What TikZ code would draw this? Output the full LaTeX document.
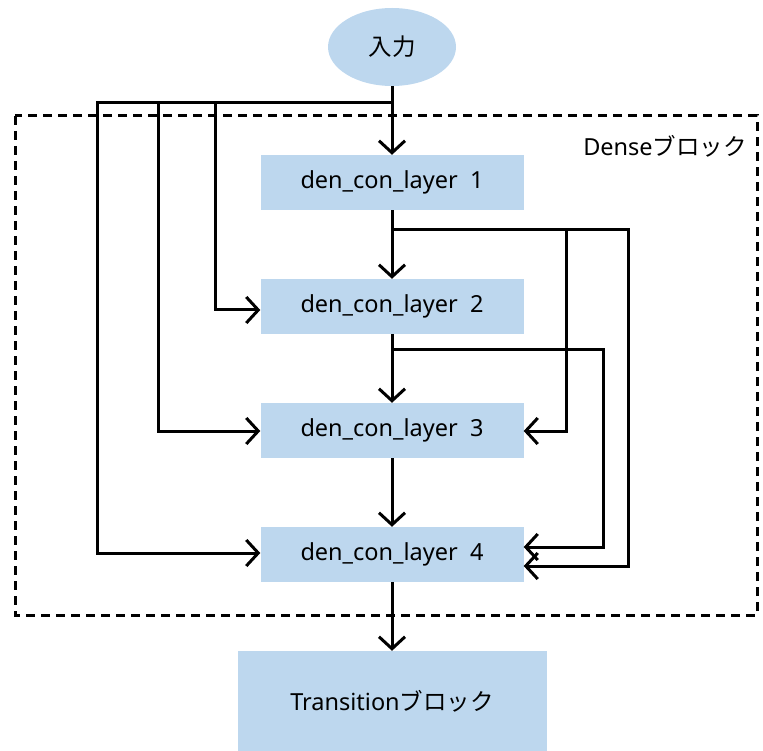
\documentclass[tikz,border=0pt]{standalone}
\usepackage{fontspec}
\setmainfont{Noto Sans}
\newfontfamily\cjk{Noto Sans CJK JP}
\usetikzlibrary{arrows.meta,shapes.geometric}
\definecolor{boxblue}{HTML}{BDD7EE}
\tikzset{
  txt/.style={font=\fontsize{23.5}{27}\selectfont},
  layerbox/.style={fill=boxblue, draw=none, minimum width=263pt, minimum height=55pt, inner sep=0pt, txt},
  conn/.style={line width=3pt, line join=miter, -{Straight Barb[length=12pt,width=26pt,line width=3pt]}},
}
\begin{document}
\begin{tikzpicture}[x=1pt,y=-1pt]
\useasboundingbox (0,0) rectangle (763,751);
% dashed dense block
\draw[line width=3pt, dash pattern=on 9pt off 6pt] (15,116) rectangle (757,615);
\node[txt] (dlabel) at (665,146) {Dense{\cjk ブロック}};
% nodes
\node[ellipse, fill=boxblue, minimum width=128pt, minimum height=78pt, inner sep=0pt, txt] (in) at (392,47) {\cjk 入力};
\node[layerbox] (l1) at (392,182.5) {den\_con\_layer\ \ 1};
\node[layerbox] (l2) at (392,306.5) {den\_con\_layer\ \ 2};
\node[layerbox] (l3) at (392,430.5) {den\_con\_layer\ \ 3};
\node[layerbox] (l4) at (392,554.5) {den\_con\_layer\ \ 4};
\node[fill=boxblue, minimum width=309pt, minimum height=100pt, inner sep=0pt, txt] (tr) at (392,701) {Transition{\cjk ブロック}};
% junction coordinates
\coordinate (j0) at (392,103);
\coordinate (j1) at (392,230);
\coordinate (j2) at (392,349);
% main chain
\draw[conn] (in.south) -- (l1.north);
\draw[conn] (l1.south) -- (l2.north);
\draw[conn] (l2.south) -- (l3.north);
\draw[conn] (l3.south) -- (l4.north);
\draw[conn] (l4.south) -- (tr.north);
% input skips
\draw[conn] (j0) -- (215,103) -- (215,310) -- (l2.west |- 0,310);
\draw[conn] (215,103) -- (158,103) -- (158,431) -- (l3.west |- 0,431);
\draw[conn] (158,103) -- (97,103) -- (97,553) -- (l4.west |- 0,553);
% layer1 skips
\draw[conn] (j1) -- (566,230) -- (566,431) -- (l3.east |- 0,431);
\draw[conn] (566,230) -- (628,230) -- (628,566) -- (l4.east |- 0,566);
% layer2 skip
\draw[conn] (j2) -- (603,349) -- (603,547) -- (l4.east |- 0,547);
\end{tikzpicture}
\end{document}
